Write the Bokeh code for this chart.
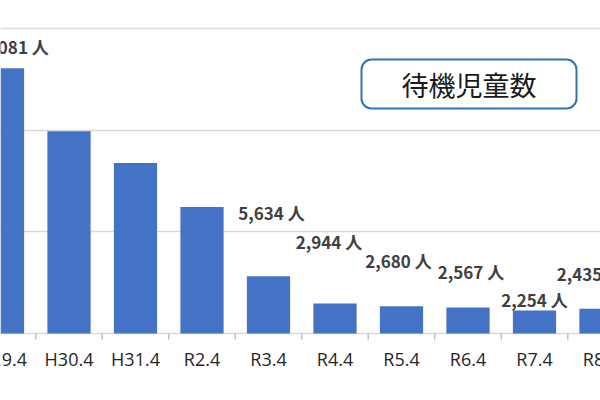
import math
from bokeh.plotting import figure
from bokeh.models import Range1d, FixedTicker, Grid, ColumnDataSource, BoxAnnotation
from bokeh.core.properties import value
from bokeh.embed import file_html
from bokeh.resources import INLINE

# ---- data ----
categories = ["H29.4", "H30.4", "H31.4", "R2.4", "R3.4", "R4.4", "R5.4", "R6.4", "R7.4", "R8.4"]
waiting_children = [26081, 19895, 16772, 12439, 5634, 2944, 2680, 2567, 2254, 2435]
label_shown = [True, False, False, False, True, True, True, True, True, True]
grid_values = [0, 10000, 20000, 30000]
title_text = "待機児童数"

# ---- layout / style ----
label_lift_px = [22, 0, 0, 0, 64, 62, 46, 36, 11, 35]    # how far each value label sits above its bar
label_shift_px = [8, 0, 0, 0, 3, -6, -3, 3, 0, -11]      # horizontal nudge of each value label
px_per_unit = 305 / 30000.0
W, H = 600, 400
zero_px = 333            # baseline, from the top
cat_px = 66.5            # spacing between categories
first_cat_px = 2         # centre of the first category
x_start = (0 - first_cat_px) / cat_px
x_end = (W - first_cat_px) / cat_px

xs = list(range(len(categories)))
bar_src = ColumnDataSource(dict(x=xs, top=waiting_children, cat=categories))

lbl_x, lbl_y, lbl_t, lbl_dy, lbl_dx = [], [], [], [], []
for i, (v, s, off, sh) in enumerate(zip(waiting_children, label_shown, label_lift_px, label_shift_px)):
    if s:
        lbl_x.append(i)
        lbl_y.append(v)
        lbl_t.append(f"{v:,} 人")
        lbl_dy.append(-off)
        lbl_dx.append(sh)
lbl_src = ColumnDataSource(dict(x=lbl_x, y=lbl_y, t=lbl_t, dy=lbl_dy, dx=lbl_dx))

p = figure(width=W, height=H, output_backend="svg", toolbar_location=None,
           x_axis_location=None, y_axis_location=None,
           x_range=Range1d(x_start, x_end),
           y_range=Range1d(-(H - zero_px) / px_per_unit, zero_px / px_per_unit),
           min_border=0, min_border_left=0, min_border_right=0,
           min_border_top=0, min_border_bottom=0)
p.outline_line_color = None
p.background_fill_color = "white"
p.border_fill_color = "white"
for g in p.xgrid + p.ygrid:
    g.visible = False

grid = Grid(dimension=1, ticker=FixedTicker(ticks=grid_values),
            grid_line_color="#d9d9d9", grid_line_width=1.5)
p.add_layout(grid)

# boundary tick marks below the baseline
bx = [i - 0.5 for i in range(len(categories) + 1)]
p.ray(x=bx, y=[0] * len(bx), length=6, length_units="screen", angle=-math.pi / 2,
      line_color="#bfbfbf", line_width=1.5)

p.vbar(x="x", top="top", width=0.65, source=bar_src,
       fill_color="#4472c4", line_color=None)

# category labels
p.text(x="x", y=0, text="cat", source=bar_src, y_offset=25,
       text_align="center", text_baseline="middle",
       text_font=value("Open Sans"), text_font_size="18px", text_color="#262626")

# value labels
p.text(x="x", y="y", text="t", source=lbl_src, x_offset="dx", y_offset="dy",
       text_align="center", text_baseline="middle",
       text_font=value("Noto Sans CJK JP"), text_font_size="17px",
       text_font_style="bold", text_color="#404040")

# title box
box_left = (361 - first_cat_px) / cat_px
box_right = (576 - first_cat_px) / cat_px
box_top = (zero_px - 59) / px_per_unit
box_bottom = (zero_px - 108) / px_per_unit
p.add_layout(BoxAnnotation(left=box_left, right=box_right, top=box_top, bottom=box_bottom,
                           fill_color="white", fill_alpha=1.0, level="underlay",
                           line_color="#2e75b6", line_alpha=1.0, line_width=2,
                           border_radius=10))
p.text(x=[(box_left + box_right) / 2], y=[(box_top + box_bottom) / 2], text=[title_text],
       text_align="center", text_baseline="middle",
       text_font=value("Noto Sans CJK JP"), text_font_size="27px", text_color="#1a1a1a")

open("out.html", "w").write(file_html(p, INLINE))
